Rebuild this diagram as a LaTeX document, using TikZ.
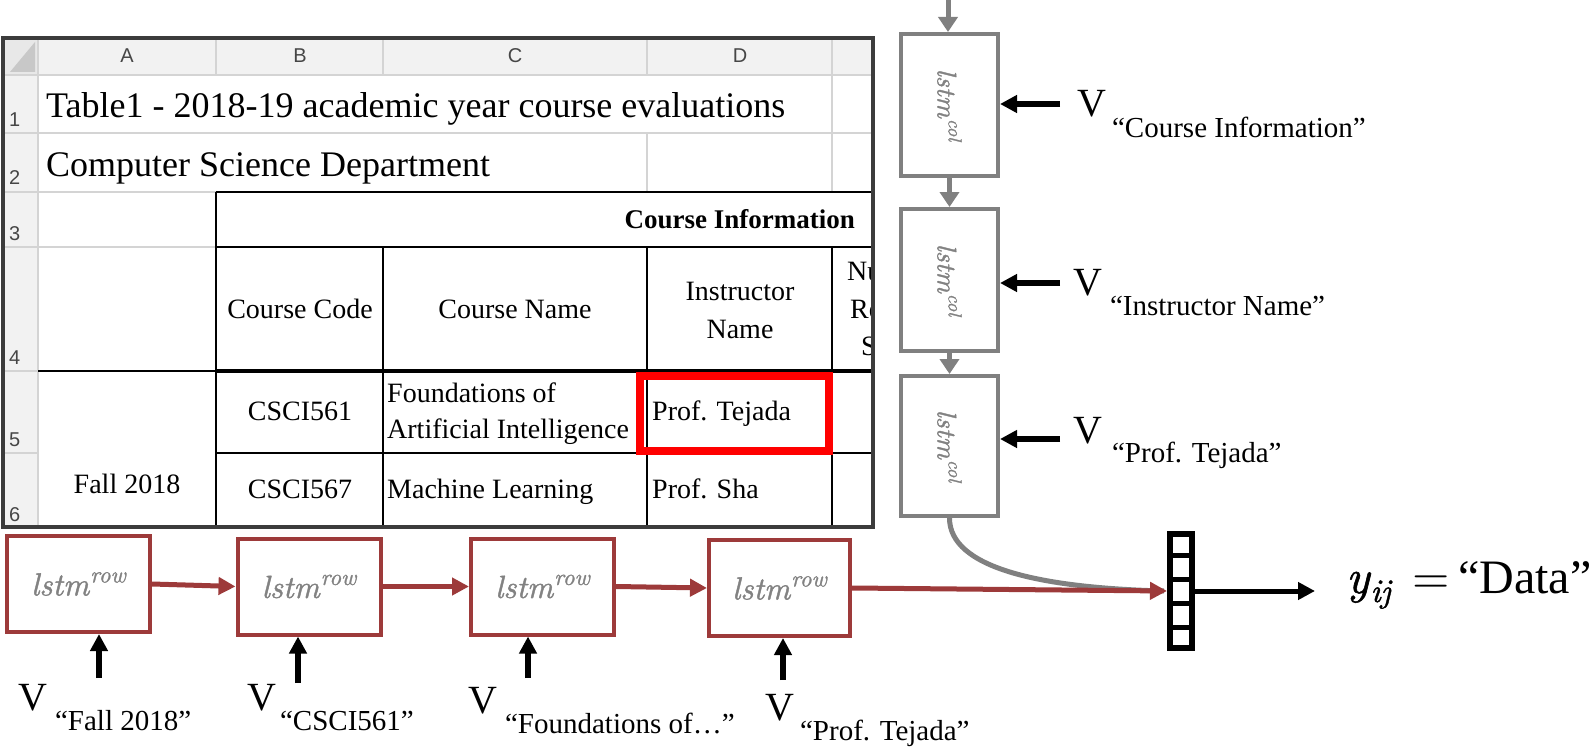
\documentclass[tikz,border=0pt]{standalone}
\usepackage{fontspec}
\setmainfont{Liberation Serif}
\newfontfamily\sheetsans{Liberation Sans}
\newfontfamily\lmit{lmroman10-italic.otf}[FakeBold=1.2]
\newfontfamily\lmrm{lmroman10-regular.otf}
\usetikzlibrary{arrows.meta,calc}
\definecolor{boxgray}{RGB}{128,128,128}
\definecolor{txtgray}{RGB}{130,130,130}
\definecolor{rowred}{RGB}{157,58,58}
\definecolor{gridgray}{RGB}{212,212,212}
\definecolor{hdrfill}{RGB}{242,242,242}
\definecolor{cornerfill}{RGB}{232,232,232}
\definecolor{trigray}{RGB}{200,200,200}
\definecolor{framegray}{RGB}{60,60,60}
\definecolor{hdrtext}{RGB}{70,70,70}
\definecolor{hlred}{RGB}{255,0,0}
\newcommand\Vlab[3]{{\fontsize{40}{44}\selectfont V}\kern#1pt\raisebox{-#2pt}{\fontsize{29}{32}\selectfont #3}}
\newcommand\LstmRow{{\lmit\fontsize{32}{36}\selectfont lstm\kern1pt\raisebox{13pt}{\fontsize{23}{26}\selectfont row}}}
\newcommand\LstmCol{{\lmit\fontsize{27}{30}\selectfont lstm\kern1pt\raisebox{11pt}{\fontsize{19}{22}\selectfont col}}}
\begin{document}
\begin{tikzpicture}[x=1pt,y=-1pt,
  cell/.style={inner sep=0, font=\fontsize{28}{32}\selectfont, anchor=base},
  cellw/.style={cell, anchor=base west},
  bigtxt/.style={inner sep=0, font=\fontsize{36}{40}\selectfont, anchor=base west},
  hdr/.style={inner sep=0, font=\sheetsans\fontsize{20}{24}\selectfont, text=hdrtext, anchor=base},
  rown/.style={inner sep=0, font=\sheetsans\fontsize{20}{24}\selectfont, text=hdrtext, anchor=base west},
  grid/.style={draw=gridgray, line width=1.3},
  tline/.style={draw=black, line width=2},
  colbox/.style={draw=boxgray, line width=4, fill=white, minimum width=97, minimum height=142, inner sep=0},
  coltext/.style={rotate=-90, text=txtgray, inner sep=0},
  rowbox/.style={draw=rowred, line width=4, fill=white, minimum width=143, minimum height=96, inner sep=0, text=txtgray},
  grayarrow/.style={draw=boxgray, line width=5, -{Triangle[length=15pt,width=19pt]}},
  redarrow/.style={draw=rowred, line width=5, -{Triangle[length=17pt,width=17pt]}},
  inarrow/.style={draw=black, line width=5.5, -{Triangle[length=17pt,width=17pt]}},
  vlabel/.style={anchor=base west, inner sep=0}]
\useasboundingbox (0,0) rectangle (1596,749);
\fill[white] (0,0) rectangle (1596,749);

% ---------------- spreadsheet ----------------
\fill[hdrfill] (3,38) rectangle (873,75);
\fill[hdrfill] (3,38) rectangle (38,527);
\fill[cornerfill] (3,38) rectangle (38,75);
\fill[trigray] (10,72) -- (35,42) -- (35,72) -- cycle;
% grey grid
\draw[grid] (3,75) -- (873,75);
\foreach \xx in {38,216,383,647,832} \draw[grid] (\xx,38) -- (\xx,75);
\draw[grid] (38,75) -- (38,527);
\foreach \yy in {133,192,247,371,453} \draw[grid] (3,\yy) -- (38,\yy);
\draw[grid] (38,133) -- (873,133);
\draw[grid] (832,75) -- (832,192);
\draw[grid] (647,133) -- (647,192);
\draw[grid] (38,192) -- (216,192);
\draw[grid] (38,247) -- (216,247);
% black table lines
\draw[tline] (216,192) -- (873,192);
\draw[tline] (216,192) -- (216,527);
\draw[tline] (216,247) -- (873,247);
\foreach \xx in {383,647,832} \draw[tline] (\xx,247) -- (\xx,527);
\draw[tline] (38,371) -- (216,371);
\draw[draw=black, line width=4] (216,371) -- (873,371);
\draw[tline] (216,453) -- (873,453);

% headers
\node[hdr] (hA) at (127,63) {A};
\node[hdr] (hB) at (300,63) {B};
\node[hdr] (hC) at (515,63) {C};
\node[hdr] (hD) at (740,63) {D};
\node[rown] (n1) at (9,127) {1};
\node[rown] (n2) at (9,185) {2};
\node[rown] (n3) at (9,240) {3};
\node[rown] (n4) at (9,364) {4};
\node[rown] (n5) at (9,446) {5};
\node[rown] (n6) at (9,521) {6};

% cell texts
\node[bigtxt] (t1) at (46,118) {Table1 - 2018-19 academic year course evaluations};
\node[bigtxt] (t2) at (46,177) {Computer Science Department};
\node[cell, anchor=base east, font=\bfseries\fontsize{27}{32}\selectfont] (ci) at (855,228) {Course Information};
\node[cell] (cc) at (300,318) {Course Code};
\node[cell] (cn) at (515,318) {Course Name};
\node[cell] (in1) at (740,300) {Instructor};
\node[cell] (in2) at (740,338) {Name};
\begin{scope}
\clip (833,248) rectangle (871,370);
\node[cellw] (e1) at (847,280) {Nu};
\node[cellw] (e2) at (850,318) {Re};
\node[cellw] (e3) at (861,355) {S};
\end{scope}
\node[cell] (cs1) at (300,420) {CSCI561};
\node[cell] (cs2) at (300,498) {CSCI567};
\node[cell] (fall) at (127,493) {Fall 2018};
\node[cellw] (fo1) at (387,402) {Foundations of};
\node[cellw] (fo2) at (387,438) {Artificial Intelligence};
\node[cellw] (ml) at (387,498) {Machine Learning};
\node[cellw] (pt) at (652,420) {Prof. Tejada};
\node[cellw] (ps) at (652,498) {Prof. Sha};

% frame
\draw[draw=framegray, line width=3.5] (3,38) rectangle (873,527);
% highlight
\draw[draw=hlred, line width=8] (640,376) rectangle (829,451);

% ---------------- column LSTMs ----------------
\node[colbox] (c1) at (949.5,105) {};
\node[colbox] (c2) at (949.5,280) {};
\node[colbox, minimum height=140] (c3) at (949.5,446) {};
\node[coltext] (c1t) at (c1) {\LstmCol};
\node[coltext] (c2t) at (c2) {\LstmCol};
\node[coltext] (c3t) at (c3) {\LstmCol};
\coordinate (topin) at (948,0);
\draw[grayarrow] (topin) -- (topin |- c1.north);
\draw[grayarrow] (c1.south) -- (c2.north);
\draw[grayarrow] (c2.south) -- (c3.north);

\coordinate (ai1) at (1060,104);
\coordinate (ai2) at (1060,283);
\coordinate (ai3) at (1060,439);
\draw[inarrow] (ai1) -- (ai1 -| c1.east);
\draw[inarrow] (ai2) -- (ai2 -| c2.east);
\draw[inarrow] (ai3) -- (ai3 -| c3.east);
\node[vlabel] (vc1) at (1077,117) {\Vlab{6}{21}{“Course Information”}};
\node[vlabel] (vc2) at (1073,295) {\Vlab{8}{20}{“Instructor Name”}};
\node[vlabel] (vc3) at (1073,443) {\Vlab{10}{19}{“Prof. Tejada”}};

% ---------------- output vector ----------------
\node[draw=black, line width=6, fill=white, minimum width=22, minimum height=114, inner sep=0] (vec) at (1181,591) {};
\foreach \k in {1,2,3,4}
  \draw[line width=5] ($(vec.north west)!\k/5!(vec.south west)$) -- ($(vec.north east)!\k/5!(vec.south east)$);

\draw[draw=boxgray, line width=5] (c3.south) .. controls (949.5,568) and (1040,588) .. ([xshift=-3pt]vec.west);

% ---------------- row LSTMs ----------------
\node[rowbox] (r1) at (78.5,584) {\LstmRow};
\node[rowbox] (r2) at (309,586.5) {\LstmRow};
\node[rowbox] (r3) at (542.5,586.5) {\LstmRow};
\node[rowbox, minimum width=141] (r4) at (779.5,588) {\LstmRow};
\draw[redarrow] (r1.east) -- (r2.west);
\draw[redarrow] (r2.east) -- (r3.west);
\draw[redarrow] (r3.east) -- (r4.west);
\draw[redarrow] (r4.east) -- (vec.west);

\coordinate (ab1) at (99,678);
\coordinate (ab2) at (298,683);
\coordinate (ab3) at (528,678);
\coordinate (ab4) at (783,680);
\draw[inarrow] (ab1) -- (ab1 |- r1.south);
\draw[inarrow] (ab2) -- (ab2 |- r2.south);
\draw[inarrow] (ab3) -- (ab3 |- r3.south);
\draw[inarrow] (ab4) -- (ab4 |- r4.south);
\node[vlabel] (vr1) at (18,710) {\Vlab{8}{20}{“Fall 2018”}};
\node[vlabel] (vr2) at (247,710) {\Vlab{4}{20}{“CSCI561”}};
\node[vlabel] (vr3) at (468,713) {\Vlab{8}{20}{“Foundations of…”}};
\node[vlabel] (vr4) at (765,720) {\Vlab{6}{20}{“Prof. Tejada”}};

% output
\coordinate (outend) at (1315,591);
\draw[draw=black, line width=5, -{Triangle[length=17pt,width=17pt]}] (vec.east) -- (outend);
\node[anchor=base west, inner sep=0, font=\fontsize{48}{52}\selectfont] (yij) at (1346,593)
  {{\lmit y\kern1pt\raisebox{-9pt}{\fontsize{33}{36}\selectfont ij}}\kern22pt{\lmrm =}\kern8pt“Data”};
\end{tikzpicture}
\end{document}
